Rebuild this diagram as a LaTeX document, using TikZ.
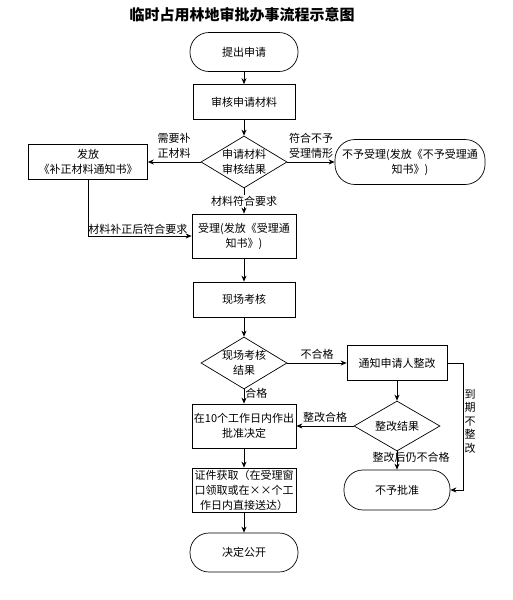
\documentclass[tikz,border=0pt]{standalone}
\usepackage{fontspec}
\setmainfont{Noto Sans CJK SC}
\usetikzlibrary{shapes.geometric,arrows.meta}

\begin{document}
\begin{tikzpicture}[x=1pt, y=-1pt, >={Stealth[length=6pt,width=5pt]}, line width=0.7pt,
    font=\fontsize{11}{15}\selectfont, every node/.style={align=center},
    term/.style={draw, rounded corners=19pt, minimum width=108pt, minimum height=39pt, inner sep=0pt},
    box/.style={draw, minimum width=102pt, minimum height=35pt, inner sep=1pt},
    dec/.style={draw, diamond, aspect=1.65, minimum width=86pt, minimum height=52pt, inner sep=-2pt},
    lbl/.style={inner sep=1pt}]
    \useasboundingbox (0,0) rectangle (513,600);
    \node[font=\fontsize{15}{18}\selectfont\bfseries] (title) at (242,15) {临时占用林地审批办事流程示意图};
    \node[term] (tijiao) at (244,52) {提出申请};
    \node[box] (shenhe) at (244,102) {审核申请材料};
    \node[dec] (jieguo) at (244,162) {申请材料\\审核结果};
    \node[box, minimum width=119pt] (buzheng) at (88,162) {发放\\《补正材料通知书》};
    \node[term, minimum width=150pt, minimum height=45pt, rounded corners=20pt] (buyu) at (410,162) {不予受理(发放《不予受理通\\知书》)};
    \node[box, minimum width=104pt, minimum height=44pt] (shouli) at (244,236) {受理(发放《受理通\\知书》)};
    \node[box] (kaohe) at (244,299.5) {现场考核};
    \node[dec] (kaoheJg) at (244,363) {现场考核\\结果};
    \node[box, minimum width=100pt] (tongzhi) at (397,363) {通知申请人整改};
    \node[dec, minimum height=50pt] (zhenggai) at (397,426) {整改结果};
    \node[box, minimum width=104pt, minimum height=44pt] (pizhun) at (244,426) {在10个工作日内作出\\批准决定};
    \node[term, minimum width=106pt, minimum height=40pt] (bupizhun) at (397,490) {不予批准};
    \node[box, minimum width=104pt, minimum height=44pt] (zhengjian) at (244,490) {证件获取（在受理窗\\口领取或在××个工\\作日内直接送达）};
    \node[term] (gongkai) at (244,552.5) {决定公开};
    \draw[->] (tijiao) -- (shenhe);
    \draw[->] (shenhe) -- (jieguo);
    \draw[->] (jieguo) -- node[above]{需要补\\正材料} (buzheng);
    \draw[->] (jieguo) -- node[above]{符合不予\\受理情形} (buyu);
    \draw[->] (jieguo) -- node[lbl, fill=white]{材料符合要求} (shouli);
    \draw[->] (buzheng) |- node[lbl, pos=0.5, above right, inner xsep=0pt]{材料补正后符合要求} (shouli);
    \draw[->] (shouli) -- (kaohe);
    \draw[->] (kaohe) -- (kaoheJg);
    \draw[->] (kaoheJg) -- node[above]{不合格} (tongzhi);
    \draw[->] (kaoheJg) -- node[lbl, pos=0.3, right]{合格} (pizhun);
    \draw[->] (tongzhi) -- (zhenggai);
    \draw[->] (zhenggai) -- node[above]{整改合格} (pizhun);
    \draw[->] (zhenggai) -- node[lbl, pos=0.35, xshift=14pt]{整改后仍不合格} (bupizhun);
    \draw[->] (tongzhi.east) -- ++(16,0) |- node[lbl, pos=0.23, right, font=\fontsize{11}{13.5}\selectfont]{到\\期\\不\\整\\改} (bupizhun.east);
    \draw[->] (pizhun) -- (zhengjian);
    \draw[->] (zhengjian) -- (gongkai);
\end{tikzpicture}
\end{document}
